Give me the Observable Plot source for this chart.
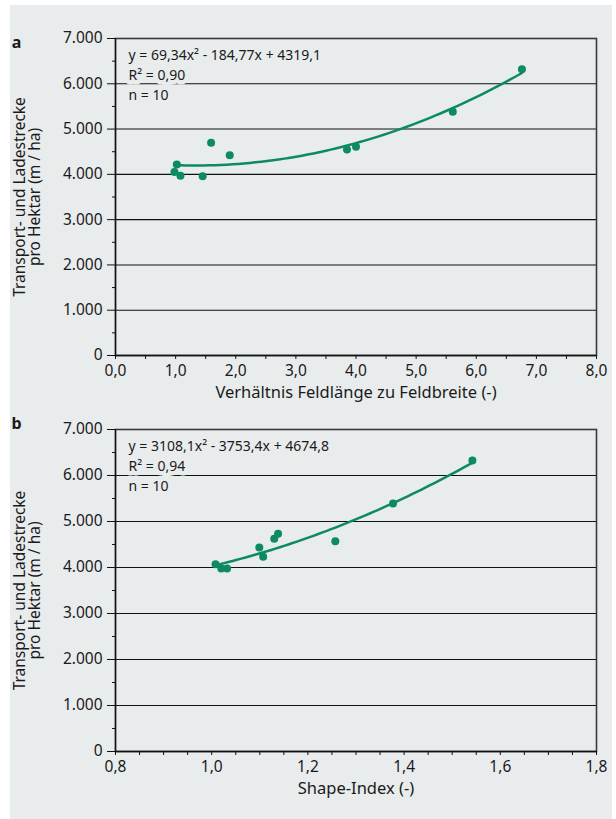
<!DOCTYPE html>
<html><head><meta charset="utf-8">
<script src="https://cdn.jsdelivr.net/npm/d3@7"></script>
<script src="https://cdn.jsdelivr.net/npm/@observablehq/plot@0.6"></script>
<style>
body{margin:0;background:#fff;}
#wrap{position:relative;width:616px;height:819px;background:#fff;overflow:hidden}
#bg{position:absolute;left:10px;top:5px;width:602px;height:814px;background:#e9eced}
.panel{position:absolute;left:0}
</style></head>
<body><div id="wrap"><div id="bg"></div></div>
<script>
// ---- data (panel a) ----
const ratioA = [0.98, 1.02, 1.08, 1.45, 1.59, 1.90, 3.85, 4.00, 5.61, 6.76];
const distA  = [4050, 4220, 3970, 3960, 4700, 4420, 4550, 4610, 5380, 6320];
const coefA  = [69.34, -184.77, 4319.1];
const statsA = ["y = 69,34x² - 184,77x + 4319,1", "R² = 0,90", "n = 10"];
const xLabelA = "Verhältnis Feldlänge zu Feldbreite (-)";
const xTicksA = [0, 1, 2, 3, 4, 5, 6, 7, 8];
const xMinorA = [0.5, 1.5, 2.5, 3.5, 4.5, 5.5, 6.5, 7.5];
// ---- data (panel b) ----
const shapeB = [1.008, 1.020, 1.032, 1.099, 1.107, 1.130, 1.138, 1.257, 1.377, 1.542];
const distB  = [4070, 3980, 3980, 4435, 4232, 4624, 4732, 4572, 5391, 6326];
const coefB  = [3108.1, -3753.4, 4674.8];
const statsB = ["y = 3108,1x² - 3753,4x + 4674,8", "R² = 0,94", "n = 10"];
const xLabelB = "Shape-Index (-)";
const xTicksB = [0.8, 1.0, 1.2, 1.4, 1.6, 1.8];
const xMinorB = [0.85, 0.9, 0.95, 1.05, 1.1, 1.15, 1.25, 1.3, 1.35, 1.45, 1.5, 1.55, 1.65, 1.7, 1.75];
// ---- shared ----
const yTicks = [0, 1000, 2000, 3000, 4000, 5000, 6000, 7000];
const yMinor = [500, 1500, 2500, 3500, 4500, 5500, 6500];
const yLabel = "Transport- und Ladestrecke\npro Hektar (m / ha)";

const GREEN = "#0d8a62", BG = "#e9eced", INK = "#1a1a1a";
const loc = d3.formatLocale({decimal: ",", thousands: ".", grouping: [3], currency: ["", "€"]});
const fmtY = loc.format(",d");
const fmtX = loc.format(".1f");

function curve(xs, coef) {
  const lo = d3.min(xs), hi = d3.max(xs);
  return d3.range(61).map(i => {
    const x = lo + (hi - lo) * i / 60;
    return {x, y: coef[0] * x * x + coef[1] * x + coef[2]};
  });
}

function panel({xs, ys, coef, stats, xDomain, xTicks, xMinor, xLabel, tag, tagDy, height, marginTop, inner}) {
  const pts = xs.map((x, i) => ({x, y: ys[i]}));
  return Plot.plot({
    width: 616, height, marginLeft: 115, marginRight: 20, marginTop, marginBottom: height - marginTop - inner,
    style: {background: "transparent", fontFamily: '"Noto Sans", sans-serif', fontSize: "15px", color: INK},
    x: {domain: xDomain}, y: {domain: [0, 7000]},
    marks: [
      Plot.ruleY(yTicks.slice(1, -1), {stroke: "#111", strokeWidth: 1.1}),
      Plot.frame({stroke: "#3a3a3a", strokeWidth: 1.6}),
      Plot.ruleY([0], {stroke: "#111", strokeWidth: 1.3}),
      Plot.ruleX([xDomain[0]], {stroke: "#111", strokeWidth: 1.3}),
      Plot.axisY(yTicks, {tickSize: 8, tickPadding: 5, tickFormat: fmtY, label: null, stroke: "#111", fontSize: 15.5}),
      Plot.axisY(yMinor, {tickSize: 3, tickFormat: () => "", label: null, stroke: "#111"}),
      Plot.axisX(xTicks, {tickSize: 4, tickPadding: 5, tickFormat: fmtX, label: null, stroke: "#111", fontSize: 15.5}),
      Plot.axisX(xMinor, {tickSize: 4, tickFormat: () => "", label: null, stroke: "#111"}),
      Plot.text([stats.join("\n")], {frameAnchor: "top-left", textAnchor: "start", lineAnchor: "top",
        dx: 13, dy: 8, lineHeight: 1.4, fontSize: 14, fill: INK, stroke: BG, strokeWidth: 9}),
      Plot.line(curve(xs, coef), {x: "x", y: "y", stroke: GREEN, strokeWidth: 2.5}),
      Plot.dot(pts, {x: "x", y: "y", r: 4, fill: GREEN}),
      Plot.text([xLabel], {frameAnchor: "bottom", dy: 42, fontSize: 16.5, fill: INK}),
      Plot.text([yLabel], {frameAnchor: "left", textAnchor: "middle", lineAnchor: "middle", rotate: -90, dx: -88,
        lineHeight: 1.0, fontSize: 15.5, fill: INK}),
      Plot.text([tag], {frameAnchor: "top-left", textAnchor: "middle", dx: -99, dy: tagDy, fontSize: 16, fontWeight: "bold", fill: INK})
    ]
  });
}

const wrap = document.getElementById("wrap");
const a = panel({xs: ratioA, ys: distA, coef: coefA, stats: statsA, xDomain: [0, 8], xTicks: xTicksA, xMinor: xMinorA,
  xLabel: xLabelA, tag: "a", tagDy: -2, height: 410, marginTop: 38, inner: 317});
a.classList.add("panel"); a.style.top = "0px";
const b = panel({xs: shapeB, ys: distB, coef: coefB, stats: statsB, xDomain: [0.8, 1.8], xTicks: xTicksB, xMinor: xMinorB,
  xLabel: xLabelB, tag: "b", tagDy: -12, height: 416, marginTop: 39, inner: 322});
b.classList.add("panel"); b.style.top = "390px";
wrap.appendChild(a); wrap.appendChild(b);
</script>
</body></html>
